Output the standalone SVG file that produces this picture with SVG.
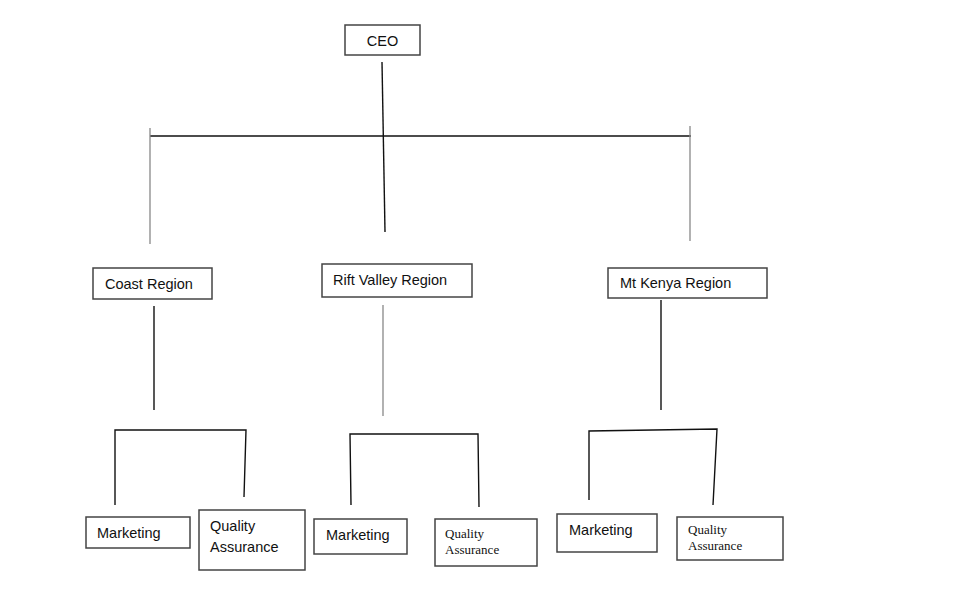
<svg xmlns="http://www.w3.org/2000/svg" width="970" height="592" viewBox="0 0 970 592">
<style>
.box{fill:#fff;stroke:#444;stroke-width:1.5}
.t{font-family:"Liberation Sans",Arial,sans-serif;font-size:14.5px;fill:#111}
.s{font-family:"Liberation Serif","Times New Roman",serif;font-size:13px;fill:#111}
.c{stroke:#111;stroke-width:1.4;fill:none}
.g{stroke:#888;stroke-width:1.3;fill:none}
</style>
<rect width="970" height="592" fill="#fff"/>
<g id="connectors">
<line class="c" x1="382" y1="62" x2="385" y2="232"/>
<line class="c" x1="150" y1="136" x2="691" y2="136"/>
<line class="g" x1="150" y1="128" x2="150" y2="244"/>
<line class="g" x1="690" y1="126" x2="690" y2="241"/>
<line class="c" x1="154" y1="306" x2="154" y2="410"/>
<line class="g" x1="383" y1="305" x2="383" y2="416"/>
<line class="c" x1="661" y1="300" x2="661" y2="410"/>
<polyline class="c" points="115,505 115,430 246,430 244,497"/>
<polyline class="c" points="351,505 350,434 478,434 479,507"/>
<polyline class="c" points="589,500 589,431 717,429 713,505"/>
</g>
<g id="ceo"><rect class="box" x="345" y="25" width="75" height="30"/><text class="t" x="382.5" y="46" text-anchor="middle">CEO</text></g>
<g id="coast"><rect class="box" x="93" y="268" width="119" height="31"/><text class="t" x="105" y="289">Coast Region</text></g>
<g id="rift"><rect class="box" x="322" y="264" width="150" height="33"/><text class="t" x="333" y="285">Rift Valley Region</text></g>
<g id="mtkenya"><rect class="box" x="608" y="268" width="159" height="30"/><text class="t" x="620" y="288">Mt Kenya Region</text></g>
<g id="coast-marketing"><rect class="box" x="86" y="517" width="104" height="31"/><text class="t" x="97" y="538">Marketing</text></g>
<g id="coast-qa"><rect class="box" x="199" y="510" width="106" height="60"/><text class="t" x="210" y="531">Quality</text><text class="t" x="210" y="552">Assurance</text></g>
<g id="rift-marketing"><rect class="box" x="314" y="519" width="93" height="35"/><text class="t" x="326" y="540">Marketing</text></g>
<g id="rift-qa"><rect class="box" x="435" y="519" width="102" height="47"/><text class="s" x="445" y="538">Quality</text><text class="s" x="445" y="554">Assurance</text></g>
<g id="mtkenya-marketing"><rect class="box" x="557" y="514" width="100" height="38"/><text class="t" x="569" y="535">Marketing</text></g>
<g id="mtkenya-qa"><rect class="box" x="677" y="517" width="106" height="43"/><text class="s" x="688" y="534">Quality</text><text class="s" x="688" y="550">Assurance</text></g>
</svg>
